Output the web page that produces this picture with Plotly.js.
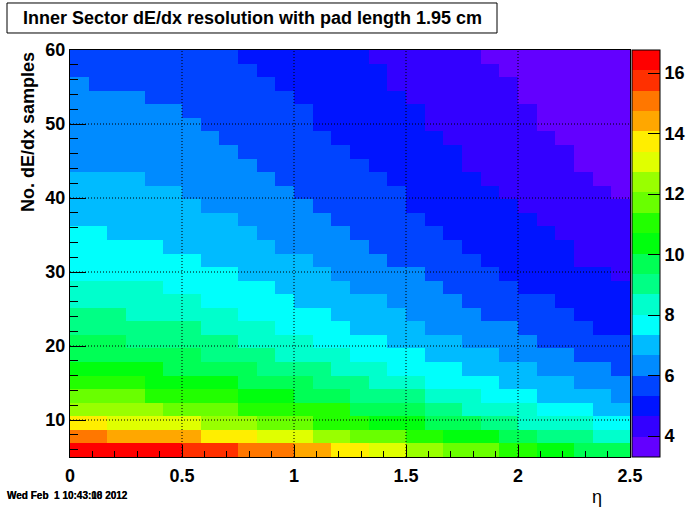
<!DOCTYPE html>
<html>
<head>
<meta charset="utf-8">
<script src="https://cdn.plot.ly/plotly-3.0.1.min.js"></script>
<style>html,body{margin:0;padding:0;background:#fff;}#chart{width:700px;height:507px;}</style>
</head>
<body>
<div id="chart"></div>
<script>
// eta bin edges (30 bins)
const etaEdges = [0, 0.0833, 0.1667, 0.25, 0.3333, 0.4167, 0.5, 0.5833, 0.6667, 0.75, 0.8333, 0.9167, 1, 1.0833, 1.1667, 1.25, 1.3333, 1.4167, 1.5, 1.5833, 1.6667, 1.75, 1.8333, 1.9167, 2, 2.0833, 2.1667, 2.25, 2.3333, 2.4167, 2.5];
// number of dE/dx samples bin edges (30 bins)
const samplesEdges = [5, 6.833, 8.667, 10.5, 12.333, 14.167, 16, 17.833, 19.667, 21.5, 23.333, 25.167, 27, 28.833, 30.667, 32.5, 34.333, 36.167, 38, 39.833, 41.667, 43.5, 45.333, 47.167, 49, 50.833, 52.667, 54.5, 56.333, 58.167, 60];
// dE/dx resolution (%), rows = samples bins (bottom to top), columns = eta bins
const resolution = [
[16.4,16.4,16.4,16.4,16.4,16.4,15.8,15.8,15.8,15.1,15.1,15.1,14.4,14.4,13.7,13.7,13.1,13.1,12.4,12.4,11.7,11.7,11.7,11.0,11.0,10.4,10.4,9.7,9.7,9.7],
[15.1,15.1,14.4,14.4,14.4,14.4,14.4,13.7,13.7,13.7,13.1,13.1,13.1,12.4,12.4,11.7,11.7,11.7,11.0,11.0,10.4,10.4,10.4,9.7,9.7,9.0,9.0,9.0,8.4,8.4],
[13.7,13.7,13.1,13.1,13.1,13.1,13.1,12.4,12.4,12.4,11.7,11.7,11.7,11.0,11.0,11.0,10.4,10.4,10.4,9.7,9.7,9.7,9.0,9.0,8.4,8.4,8.4,8.4,7.7,7.7],
[12.4,12.4,12.4,12.4,12.4,11.7,11.7,11.7,11.7,11.0,11.0,11.0,11.0,11.0,11.0,9.7,9.7,9.7,9.7,9.0,9.0,8.4,8.4,8.4,8.4,7.7,7.7,7.7,7.0,7.0],
[11.7,11.7,11.7,11.7,11.0,11.0,11.0,11.0,11.0,10.4,10.4,10.4,9.7,9.7,9.7,9.0,9.0,9.0,9.0,8.4,8.4,8.4,7.7,7.7,7.7,7.0,7.0,7.0,7.0,6.3],
[11.0,11.0,11.0,11.0,10.4,10.4,10.4,10.4,10.4,9.7,9.7,9.7,9.7,9.0,9.0,9.0,8.4,8.4,8.4,7.7,7.7,7.7,7.7,7.0,7.0,7.0,7.0,6.3,6.3,6.3],
[10.4,10.4,10.4,10.4,10.4,9.7,9.7,9.7,9.7,9.7,9.0,9.0,9.0,9.0,8.4,8.4,8.4,7.7,7.7,7.7,7.7,7.0,7.0,7.0,7.0,6.3,6.3,6.3,6.3,5.7],
[9.7,9.7,9.7,9.7,9.7,9.7,9.7,9.0,9.0,9.0,9.0,8.4,8.4,8.4,8.4,7.7,7.7,7.7,7.7,7.0,7.0,7.0,7.0,6.3,6.3,6.3,6.3,5.7,5.7,5.7],
[9.7,9.7,9.7,9.0,9.0,9.0,9.0,9.0,9.0,8.4,8.4,8.4,8.4,7.7,7.7,7.7,7.7,7.0,7.0,7.0,7.0,6.3,6.3,6.3,6.3,5.7,5.7,5.7,5.7,5.7],
[9.0,9.0,9.0,9.0,9.0,9.0,9.0,8.4,8.4,8.4,8.4,7.7,7.7,7.7,7.7,7.0,7.0,7.0,7.0,6.3,6.3,6.3,6.3,6.3,5.7,5.7,5.7,5.7,5.0,5.0],
[9.0,9.0,9.0,8.4,8.4,8.4,8.4,8.4,8.4,7.7,7.7,7.7,7.7,7.7,7.0,7.0,7.0,7.0,6.3,6.3,6.3,6.3,5.7,5.7,5.7,5.7,5.7,5.0,5.0,5.0],
[8.4,8.4,8.4,8.4,8.4,8.4,8.4,7.7,7.7,7.7,7.7,7.7,7.0,7.0,7.0,7.0,7.0,6.3,6.3,6.3,6.3,5.7,5.7,5.7,5.7,5.7,5.0,5.0,5.0,5.0],
[8.4,8.4,8.4,8.4,8.4,7.7,7.7,7.7,7.7,7.7,7.7,7.0,7.0,7.0,7.0,6.3,6.3,6.3,6.3,6.3,5.7,5.7,5.7,5.7,5.0,5.0,5.0,5.0,5.0,5.0],
[7.7,7.7,7.7,7.7,7.7,7.7,7.7,7.7,7.7,7.0,7.0,7.0,7.0,7.0,6.3,6.3,6.3,6.3,6.3,5.7,5.7,5.7,5.7,5.0,5.0,5.0,5.0,5.0,5.0,4.3],
[7.7,7.7,7.7,7.7,7.7,7.7,7.7,7.0,7.0,7.0,7.0,7.0,7.0,6.3,6.3,6.3,6.3,5.7,5.7,5.7,5.7,5.7,5.0,5.0,5.0,5.0,5.0,4.3,4.3,4.3],
[7.7,7.7,7.7,7.7,7.7,7.0,7.0,7.0,7.0,7.0,7.0,6.3,6.3,6.3,6.3,6.3,5.7,5.7,5.7,5.7,5.7,5.0,5.0,5.0,5.0,5.0,5.0,4.3,4.3,4.3],
[7.7,7.7,7.0,7.0,7.0,7.0,7.0,7.0,7.0,7.0,6.3,6.3,6.3,6.3,6.3,5.7,5.7,5.7,5.7,5.7,5.0,5.0,5.0,5.0,5.0,5.0,4.3,4.3,4.3,4.3],
[7.0,7.0,7.0,7.0,7.0,7.0,7.0,7.0,7.0,6.3,6.3,6.3,6.3,6.3,5.7,5.7,5.7,5.7,5.7,5.0,5.0,5.0,5.0,5.0,5.0,4.3,4.3,4.3,4.3,4.3],
[7.0,7.0,7.0,7.0,7.0,7.0,7.0,6.3,6.3,6.3,6.3,6.3,6.3,5.7,5.7,5.7,5.7,5.7,5.0,5.0,5.0,5.0,5.0,5.0,4.3,4.3,4.3,4.3,4.3,4.3],
[7.0,7.0,7.0,7.0,7.0,7.0,6.3,6.3,6.3,6.3,6.3,6.3,5.7,5.7,5.7,5.7,5.7,5.7,5.0,5.0,5.0,5.0,5.0,4.3,4.3,4.3,4.3,4.3,4.3,3.6],
[7.0,7.0,7.0,7.0,6.3,6.3,6.3,6.3,6.3,6.3,6.3,5.7,5.7,5.7,5.7,5.7,5.7,5.0,5.0,5.0,5.0,5.0,4.3,4.3,4.3,4.3,4.3,4.3,3.6,3.6],
[6.3,6.3,6.3,6.3,6.3,6.3,6.3,6.3,6.3,6.3,5.7,5.7,5.7,5.7,5.7,5.7,5.0,5.0,5.0,5.0,5.0,4.3,4.3,4.3,4.3,4.3,4.3,3.6,3.6,3.6],
[6.3,6.3,6.3,6.3,6.3,6.3,6.3,6.3,6.3,5.7,5.7,5.7,5.7,5.7,5.7,5.0,5.0,5.0,5.0,5.0,5.0,4.3,4.3,4.3,4.3,4.3,4.3,3.6,3.6,3.6],
[6.3,6.3,6.3,6.3,6.3,6.3,6.3,6.3,5.7,5.7,5.7,5.7,5.7,5.7,5.0,5.0,5.0,5.0,5.0,5.0,4.3,4.3,4.3,4.3,4.3,4.3,3.6,3.6,3.6,3.6],
[6.3,6.3,6.3,6.3,6.3,6.3,6.3,5.7,5.7,5.7,5.7,5.7,5.7,5.0,5.0,5.0,5.0,5.0,5.0,4.3,4.3,4.3,4.3,4.3,4.3,3.6,3.6,3.6,3.6,3.6],
[6.3,6.3,6.3,6.3,6.3,6.3,5.7,5.7,5.7,5.7,5.7,5.7,5.7,5.0,5.0,5.0,5.0,5.0,5.0,4.3,4.3,4.3,4.3,4.3,4.3,3.6,3.6,3.6,3.6,3.6],
[6.3,6.3,6.3,6.3,5.7,5.7,5.7,5.7,5.7,5.7,5.7,5.7,5.0,5.0,5.0,5.0,5.0,5.0,4.3,4.3,4.3,4.3,4.3,4.3,3.6,3.6,3.6,3.6,3.6,3.6],
[6.3,5.7,5.7,5.7,5.7,5.7,5.7,5.7,5.7,5.7,5.7,5.0,5.0,5.0,5.0,5.0,5.0,4.3,4.3,4.3,4.3,4.3,4.3,4.3,3.6,3.6,3.6,3.6,3.6,3.6],
[5.7,5.7,5.7,5.7,5.7,5.7,5.7,5.7,5.7,5.7,5.0,5.0,5.0,5.0,5.0,5.0,5.0,4.3,4.3,4.3,4.3,4.3,4.3,3.6,3.6,3.6,3.6,3.6,3.6,3.6],
[5.7,5.7,5.7,5.7,5.7,5.7,5.7,5.7,5.7,5.0,5.0,5.0,5.0,5.0,5.0,5.0,4.3,4.3,4.3,4.3,4.3,4.3,3.6,3.6,3.6,3.6,3.6,3.6,3.6,3.6]
];
// 20 contour level colours (ROOT pretty palette), lowest to highest
const levelColors = ['#6300FF','#3300FF','#0014FF','#0044FF','#008BFF','#00BBFF','#00FFFC','#00FFCC','#00FF85','#00FF55','#00FF0E','#22FF00','#69FF00','#99FF00','#E0FF00','#FFEE00','#FFA700','#FF7700','#FF3000','#FF0000'];
const zMin = 3.31, zMax = 16.76;
const xTicks = [0, 0.5, 1, 1.5, 2, 2.5];
const yTicks = [10, 20, 30, 40, 50, 60];
const zTicks = [4, 6, 8, 10, 12, 14, 16];
const dateStamps = ['Wed Feb  1 10:43:08 2012', 'Wed Feb  1 10:43:10 2012'];

const colorscale = [];
levelColors.forEach((c, i) => {
  colorscale.push([i / levelColors.length, c]);
  colorscale.push([(i + 1) / levelColors.length, c]);
});

const FONT = 'Liberation Sans, Arial, sans-serif';
const tickFont = {family: FONT, size: 18, color: '#000', weight: 'bold'};

const trace = {
  type: 'heatmap',
  x: etaEdges,
  y: samplesEdges,
  z: resolution,
  zmin: zMin, zmax: zMax,
  zsmooth: false,
  colorscale: colorscale,
  hoverinfo: 'skip',
  colorbar: {
    x: 1.0036, xanchor: 'left', xpad: 0, ypad: 0,
    y: 0.5, yanchor: 'middle', len: 1, lenmode: 'fraction',
    thickness: 28, thicknessmode: 'pixels',
    outlinewidth: 1, outlinecolor: '#000',
    tickmode: 'array', tickvals: zTicks,
    ticks: 'inside', ticklen: 12, tickcolor: '#000', tickwidth: 1,
    tickfont: tickFont
  }
};

const gridShapes = [];
xTicks.slice(1, -1).forEach(v => gridShapes.push({type: 'line', xref: 'x', yref: 'paper', x0: v, x1: v, y0: 0, y1: 1, line: {color: '#000', width: 1, dash: '1px,2px'}, layer: 'above'}));
yTicks.slice(0, -1).forEach(v => gridShapes.push({type: 'line', xref: 'paper', yref: 'y', x0: 0, x1: 1, y0: v, y1: v, line: {color: '#000', width: 1, dash: '1px,2px'}, layer: 'above'}));
// title box
gridShapes.push({type: 'rect', xref: 'paper', yref: 'paper', x0: -0.1125, x1: 0.7625, y0: 1.0418, y1: 1.1155, line: {color: '#000', width: 1}, fillcolor: '#fff', layer: 'above'});

const annotations = [
  {text: 'Inner Sector dE/dx resolution with pad length 1.95 cm', xref: 'paper', yref: 'paper', x: 0.325, y: 1.0786, xanchor: 'center', yanchor: 'middle', showarrow: false, font: {family: FONT, size: 18, color: '#000', weight: 'bold'}},
  {text: 'No. dE/dx samples', xref: 'paper', yref: 'paper', x: -0.075, y: 1, xanchor: 'center', yanchor: 'top', textangle: -90, showarrow: false, font: {family: FONT, size: 18, color: '#000', weight: 'bold'}},
  {text: 'η', xref: 'paper', yref: 'paper', x: 0.941, y: -0.098, xanchor: 'center', yanchor: 'middle', showarrow: false, font: {family: FONT, size: 18, color: '#000'}}
];
dateStamps.forEach(t => annotations.push({text: t, xref: 'paper', yref: 'paper', x: -0.116, y: -0.0958, xanchor: 'left', yanchor: 'middle', showarrow: false, font: {family: FONT, size: 10, color: '#000', weight: 'bold'}}));

const layout = {
  width: 700, height: 507,
  margin: {l: 70, r: 70, t: 50, b: 50, pad: 0, autoexpand: false},
  paper_bgcolor: '#fff', plot_bgcolor: '#fff',
  showlegend: false,
  xaxis: {
    range: [0, 2.5], tickmode: 'array', tickvals: xTicks,
    ticks: 'inside', ticklen: 12, tickwidth: 1, tickcolor: '#000',
    minor: {dtick: 0.1, tick0: 0, ticks: 'inside', ticklen: 6, tickcolor: '#000', tickwidth: 1, showgrid: false},
    showline: true, linecolor: '#000', linewidth: 1, mirror: true,
    showgrid: false, zeroline: false, tickfont: tickFont, ticklabelstandoff: 2
  },
  yaxis: {
    range: [5, 60], tickmode: 'array', tickvals: yTicks,
    ticks: 'inside', ticklen: 16, tickwidth: 1, tickcolor: '#000',
    minor: {dtick: 2, tick0: 0, ticks: 'inside', ticklen: 8, tickcolor: '#000', tickwidth: 1, showgrid: false},
    showline: true, linecolor: '#000', linewidth: 1, mirror: true,
    showgrid: false, zeroline: false, tickfont: tickFont
  },
  shapes: gridShapes,
  annotations: annotations
};

Plotly.newPlot('chart', [trace], layout, {displayModeBar: false, staticPlot: true});
</script>
</body>
</html>
